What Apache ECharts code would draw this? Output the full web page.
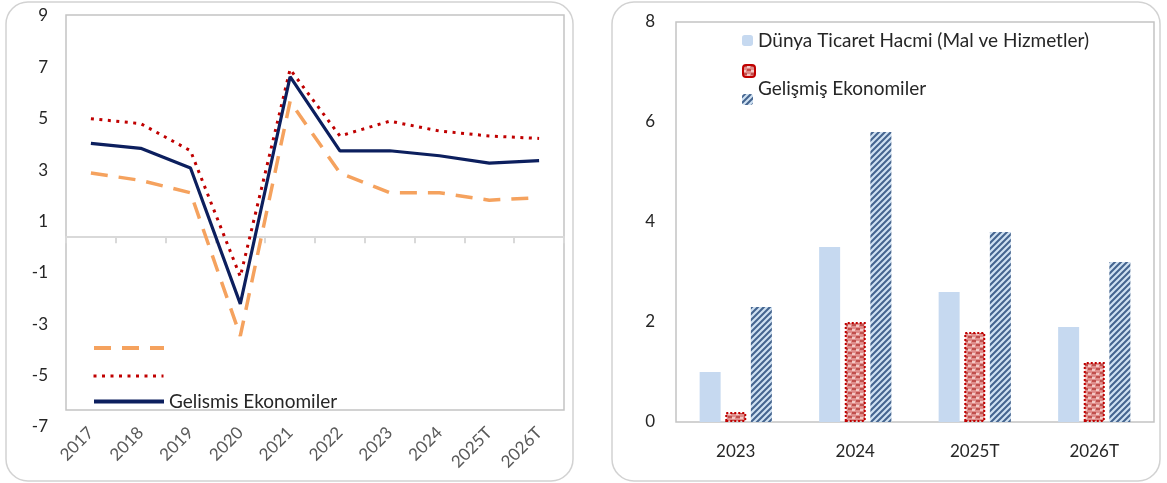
<!DOCTYPE html>
<html><head><meta charset="utf-8">
<script src="https://cdn.jsdelivr.net/npm/echarts@6/dist/echarts.min.js"></script>
<style>html,body{margin:0;padding:0;background:#fff}#c{width:1167px;height:483px}</style>
</head><body><div id="c"></div>
<script>
// ---------- data: left chart (line) ----------
const leftCategories = ['2017','2018','2019','2020','2021','2022','2023','2024','2025T','2026T'];
const leftSolidName = 'Gelismis Ekonomiler';
const leftSolid  = [3.8, 3.6, 2.8, -2.7, 6.5, 3.5, 3.5, 3.3, 3.0, 3.1];
const leftDashedName = 'Seri A';
const leftDashed = [2.6, 2.3, 1.8, -4.0, 5.5, 2.6, 1.8, 1.8, 1.5, 1.6];
const leftDottedName = 'Seri B';
const leftDotted = [4.8, 4.6, 3.5, -1.6, 6.8, 4.1, 4.7, 4.3, 4.1, 4.0];
const leftYTicks = [-7, -5, -3, -1, 1, 3, 5, 7, 9];

// ---------- data: right chart (bars) ----------
const rightCategories = ['2023','2024','2025T','2026T'];
const rightLightName = 'Dünya Ticaret Hacmi (Mal ve Hizmetler)';
const rightLight = [1.0, 3.5, 2.6, 1.9];
const rightRedName = 'Seri C';
const rightRed = [0.2, 2.0, 1.8, 1.2];
const rightNavyName = 'Gelişmiş Ekonomiler';
const rightNavy = [2.3, 5.8, 3.8, 3.2];
const rightYTicks = [0, 2, 4, 6, 8];

// ---------- patterns ----------
function redPattern(){
  const c=document.createElement('canvas'); c.width=8; c.height=8;
  const g=c.getContext('2d');
  g.fillStyle='#df8d8b'; g.fillRect(0,0,8,8);
  g.fillStyle='#c0504d'; g.fillRect(0,0,4,2); g.fillRect(4,4,4,2);
  g.fillStyle='#f4c9c6'; g.fillRect(4,1,3,2); g.fillRect(0,5,3,2);
  return c;
}
function navyPattern(){
  const c=document.createElement('canvas'); c.width=6; c.height=6;
  const g=c.getContext('2d');
  g.fillStyle='#44648f'; g.fillRect(0,0,6,6);
  g.strokeStyle='#cfe1f2'; g.lineWidth=2.2;
  g.beginPath();
  g.moveTo(-1,7); g.lineTo(7,-1);
  g.moveTo(-4,4); g.lineTo(4,-4);
  g.moveTo(2,10); g.lineTo(10,2);
  g.stroke();
  return c;
}

const FONT = 'Lato';
const TXT = '#262626';
const LEG_FS = 19;

const chart = echarts.init(document.getElementById('c'), null, {renderer:'canvas'});
const option = {
  animation:false,
  backgroundColor:'#fff',
  textStyle:{fontFamily:FONT},
  graphic:[
    {type:'rect', shape:{x:6,y:2,width:567,height:479,r:22}, style:{fill:'none',stroke:'#d2d2d2',lineWidth:1.5}, z:-1},
    {type:'rect', shape:{x:612,y:2,width:548,height:479,r:22}, style:{fill:'none',stroke:'#d2d2d2',lineWidth:1.5}, z:-1}
  ],
  grid:[
    {left:66, top:15, width:498, height:395, show:true, borderColor:'#c4c4c4', borderWidth:1.5},
    {left:676, top:22, width:478, height:400, show:true, borderColor:'#c4c4c4', borderWidth:1.5},
    {left:66, top:16, width:498, height:411, show:false}
  ],
  xAxis:[
    {gridIndex:0, type:'category', data:leftCategories, position:'bottom',
     axisLine:{show:false, onZero:false}, axisTick:{show:false},
     axisLabel:{rotate:45, margin:20, fontSize:17, color:'#595959', fontFamily:FONT, interval:0}},
    {gridIndex:0, type:'category', data:leftCategories, position:'bottom',
     axisLine:{show:true, onZero:true, lineStyle:{color:'#d9d9d9', width:2}},
     axisTick:{show:true, length:6, lineStyle:{color:'#d9d9d9', width:2}},
     axisLabel:{show:false}},
    {gridIndex:1, type:'category', data:rightCategories,
     axisLine:{show:false}, axisTick:{show:false},
     axisLabel:{margin:21, fontSize:17, color:TXT, fontFamily:FONT}},
    {gridIndex:2, type:'value', show:false}
  ],
  yAxis:[
    {gridIndex:0, type:'value', min:leftYTicks[0], max:leftYTicks[leftYTicks.length-1], interval:leftYTicks[1]-leftYTicks[0],
     axisLabel:{show:false}, axisLine:{show:false}, axisTick:{show:false}, splitLine:{show:false}},
    {gridIndex:1, type:'value', min:rightYTicks[0], max:rightYTicks[rightYTicks.length-1], interval:rightYTicks[1]-rightYTicks[0],
     axisLabel:{margin:21, fontSize:17, color:TXT, fontFamily:FONT}, axisLine:{show:false}, axisTick:{show:false}, splitLine:{show:false}},
    {gridIndex:2, type:'value', min:leftYTicks[0], max:leftYTicks[leftYTicks.length-1], interval:leftYTicks[1]-leftYTicks[0],
     axisLabel:{margin:18, fontSize:17, color:TXT, fontFamily:FONT}, axisLine:{show:false}, axisTick:{show:false}, splitLine:{show:false}}
  ],
  legend:[
    {data:[leftDashedName], left:92, top:341, padding:0, itemWidth:70, itemHeight:14, formatter:()=>'',
     itemStyle:{opacity:0}, lineStyle:{width:4}},
    {data:[leftDottedName], left:92, top:369, padding:0, itemWidth:70, itemHeight:14, formatter:()=>'',
     itemStyle:{opacity:0}, lineStyle:{width:3}},
    {data:[leftSolidName], left:92, top:392, padding:0, itemWidth:70, itemHeight:14, itemStyle:{opacity:0},
     lineStyle:{width:4},
     textStyle:{fontSize:LEG_FS, color:TXT, fontFamily:FONT}},
    {data:[rightLightName], left:742, top:31, padding:0, itemWidth:11, itemHeight:11,
     textStyle:{fontSize:LEG_FS, color:TXT, fontFamily:FONT}},
    {data:[rightRedName], left:742, top:64, padding:0, itemWidth:12, itemHeight:12, formatter:()=>''},
    {data:[rightNavyName], left:742, top:79, padding:0, itemWidth:11, itemHeight:11,
     formatter:'{t|{name}}',
     textStyle:{fontSize:LEG_FS, color:TXT, fontFamily:FONT,
       rich:{t:{fontSize:LEG_FS, color:TXT, fontFamily:FONT, padding:[0,0,22,0]}}}}
  ],
  series:[
    {name:leftDashedName, type:'line', xAxisIndex:0, yAxisIndex:0, data:leftDashed, symbol:'none', z:2,
     lineStyle:{color:'#f5a25e', width:3.5, type:[17,11], cap:'butt'}, itemStyle:{color:'#f5a25e'}},
    {name:leftDottedName, type:'line', xAxisIndex:0, yAxisIndex:0, data:leftDotted, symbol:'none', z:3,
     lineStyle:{color:'#c00000', width:3, type:[3,5.5], cap:'butt'}, itemStyle:{color:'#c00000'}},
    {name:leftSolidName, type:'line', xAxisIndex:0, yAxisIndex:0, data:leftSolid, symbol:'none', z:4,
     lineStyle:{color:'#0c1f5e', width:3.2}, itemStyle:{color:'#0c1f5e'}},
    {name:rightLightName, type:'bar', xAxisIndex:2, yAxisIndex:1, data:rightLight, barWidth:21, barGap:'22%',
     itemStyle:{color:'#c6d9f0'}},
    {name:rightRedName, type:'bar', xAxisIndex:2, yAxisIndex:1, data:rightRed, barWidth:21, barGap:'22%',
     itemStyle:{color:{image:redPattern(), repeat:'repeat'}, borderColor:'#c00000', borderWidth:2, borderType:'dotted'}},
    {name:rightNavyName, type:'bar', xAxisIndex:2, yAxisIndex:1, data:rightNavy, barWidth:21, barGap:'22%',
     itemStyle:{color:{image:navyPattern(), repeat:'repeat'}}}
  ]
};
chart.setOption(option);
</script></body></html>
